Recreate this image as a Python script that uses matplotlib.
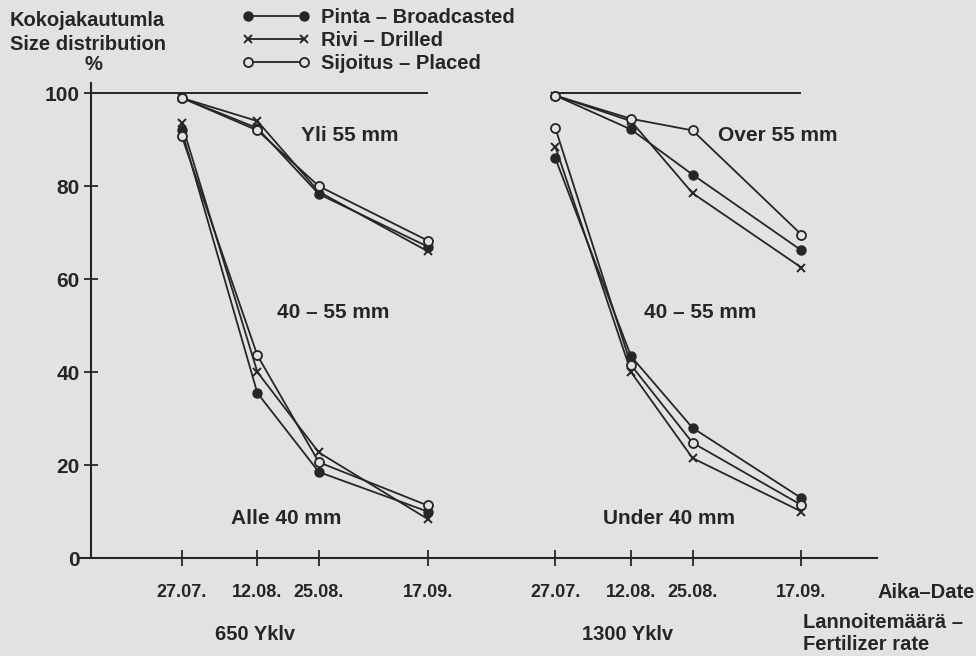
import matplotlib.pyplot as plt
from matplotlib.lines import Line2D

plt.rcParams['font.family'] = ['Liberation Sans', 'DejaVu Sans']
plt.rcParams['font.weight'] = 'bold'

BG = "#e2e2e0"
INK = "#262626"

# days after 27.07. for each sampling date
dates = ["27.07.", "12.08.", "25.08.", "17.09."]
days = [0, 16, 29, 52]
offset_1300 = 79  # second block starts this far to the right

# 650 Yklv, share over 55 mm (%)
over55_650 = {
    "broadcast": [99, 92.5, 78.3, 67],
    "drilled": [99, 94, 78.8, 66],
    "placed": [99, 92, 80, 68.3],
}
# 650 Yklv, share over 40 mm (%)
over40_650 = {
    "broadcast": [92, 35.5, 18.5, 10],
    "drilled": [93.5, 40, 22.7, 8.4],
    "placed": [90.8, 43.6, 20.6, 11.3],
}
# 1300 Yklv
over55_1300 = {
    "broadcast": [99.5, 92.2, 82.5, 66.2],
    "drilled": [99.5, 94, 78.5, 62.5],
    "placed": [99.5, 94.5, 92, 69.6],
}
over40_1300 = {
    "broadcast": [86, 43.4, 28, 12.9],
    "drilled": [88.5, 40, 21.5, 10],
    "placed": [92.5, 41.5, 24.8, 11.4],
}

styles = {
    "broadcast": dict(marker="o", mfc=INK, mec=INK, ms=6.5),
    "drilled": dict(marker="x", mfc=INK, mec=INK, ms=5.5, mew=1.4),
    "placed": dict(marker="o", mfc=BG, mec=INK, ms=6.5, mew=1.3),
}
labels = {
    "broadcast": "Pinta – Broadcasted",
    "drilled": "Rivi – Drilled",
    "placed": "Sijoitus – Placed",
}

FS = 14.5

fig = plt.figure(figsize=(9.76, 6.56), dpi=100, facecolor=BG)
ax = fig.add_axes([80 / 976, 1 - 558 / 656, (877 - 80) / 976, 475 / 656])
ax.set_facecolor(BG)

x_left = days
x_right = [d + offset_1300 for d in days]
yaxis_x = -19.2

ax.set_xlim(-21.5, 147)
ax.set_ylim(0, 102.2)

# 100 % reference lines
ax.hlines(100, yaxis_x, x_left[-1], color=INK, lw=1.4)
ax.hlines(100, x_right[0], x_right[-1], color=INK, lw=1.4)

for xs, groups in [(x_left, [over55_650, over40_650]), (x_right, [over55_1300, over40_1300])]:
    for g in groups:
        for key in ["drilled", "broadcast", "placed"]:
            ax.plot(xs, g[key], color=INK, lw=1.3, **styles[key])

for s in ["top", "right"]:
    ax.spines[s].set_visible(False)
ax.spines["left"].set_position(("data", yaxis_x))
ax.spines["left"].set_bounds(0, 102.2)
for s in ["left", "bottom"]:
    ax.spines[s].set_color(INK)
    ax.spines[s].set_linewidth(1.5)

ax.set_yticks([0, 20, 40, 60, 80, 100])
ax.set_xticks(x_left + x_right)
ax.set_xticklabels(dates + dates)
ax.tick_params(axis="y", direction="inout", length=10, width=1.3, color=INK,
               labelsize=15, labelcolor=INK, pad=3)
ax.tick_params(axis="x", direction="inout", length=11, width=1.3, color=INK,
               labelsize=13, labelcolor=INK, pad=13)

# class labels
tk = dict(fontsize=15, color=INK, ha="center", va="center", fontweight="bold")
ax.text(35.6, 91.0, "Yli 55 mm", **tk)
ax.text(32, 52.9, "40 – 55 mm", **tk)
ax.text(22, 8.4, "Alle 40 mm", **tk)
ax.text(126, 91.0, "Over 55 mm", **tk)
ax.text(109.6, 52.9, "40 – 55 mm", **tk)
ax.text(103, 8.4, "Under 40 mm", **tk)

ft = dict(fontsize=FS, color=INK, fontweight="bold")
fig.text(10 / 976, 1 - 20 / 656, "Kokojakautumla", va="center", **ft)
fig.text(10 / 976, 1 - 44 / 656, "Size distribution", va="center", **ft)
fig.text(93 / 976, 1 - 64 / 656, "%", ha="center", va="center", **ft)
fig.text(878 / 976, 1 - 593 / 656, "Aika–Date", va="center", **ft)
fig.text(255 / 976, 1 - 634 / 656, "650 Yklv", ha="center", va="center", **ft)
fig.text(628 / 976, 1 - 634 / 656, "1300 Yklv", ha="center", va="center", **ft)
fig.text(803 / 976, 1 - 622 / 656, "Lannoitemäärä –", va="center", **ft)
fig.text(803 / 976, 1 - 645 / 656, "Fertilizer rate", va="center", **ft)

order = ["broadcast", "drilled", "placed"]
handles = [Line2D([], [], color=INK, lw=1.3, **styles[k]) for k in order]
leg = fig.legend(handles, [labels[k] for k in order],
                 loc="upper left", bbox_to_anchor=(242 / 976, 1 - 8 / 656),
                 frameon=False, numpoints=2, handlelength=3.4, handletextpad=0.5,
                 labelspacing=0.2, borderaxespad=0, borderpad=0,
                 prop={"size": FS, "weight": "bold"})
for t in leg.get_texts():
    t.set_color(INK)

fig.savefig("out.png", dpi=100, facecolor=BG)
